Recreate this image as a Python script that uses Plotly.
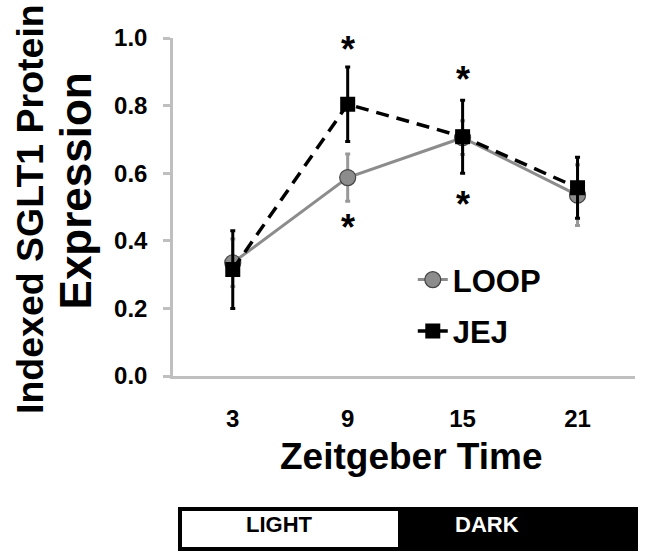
import plotly.graph_objects as go

# ---- data ----
zt_labels = ["3", "9", "15", "21"]
loop_vals = [0.335, 0.587, 0.705, 0.535]
loop_err = [0.07, 0.07, 0.05, 0.09]
jej_vals = [0.315, 0.804, 0.708, 0.557]
jej_err = [0.115, 0.11, 0.108, 0.09]
y_ticks = [0.0, 0.2, 0.4, 0.6, 0.8, 1.0]
y_tick_text = ["0.0", "0.2", "0.4", "0.6", "0.8", "1.0"]
# significance stars (category index, value)
star_idx = [1, 1, 2, 2]
star_vals = [0.966, 0.440, 0.877, 0.506]

FONT = "Liberation Sans, Arial, sans-serif"

fig = go.Figure()
fig.add_trace(go.Scatter(
    x=zt_labels, y=loop_vals, name="LOOP", mode="lines+markers",
    line=dict(color="#8c8c8c", width=3),
    marker=dict(symbol="circle", size=16, color="#8c8c8c",
                line=dict(color="#444444", width=1.2)),
    error_y=dict(type="data", array=loop_err, color="#999999",
                 thickness=3, width=2.5),
    legendgroup="a",
))
fig.add_trace(go.Scatter(
    x=zt_labels, y=jej_vals, name="JEJ", mode="lines+markers",
    line=dict(color="#000000", width=3.5, dash="13px,8px"),
    marker=dict(symbol="square", size=15, color="#000000"),
    error_y=dict(type="data", array=jej_err, color="#000000",
                 thickness=3, width=2.5),
    legendgroup="b",
))

annotations = []
for i, v in zip(star_idx, star_vals):
    annotations.append(dict(x=i, y=v, xref="x", yref="y", text="<b>*</b>",
                            showarrow=False, font=dict(size=36, color="black", family=FONT),
                            xanchor="center", yanchor="middle"))

# y-axis title (two lines)
annotations.append(dict(x=-0.3095, y=0.494, xref="paper", yref="paper",
                        text="<b>Indexed SGLT1 Protein</b>", textangle=-90,
                        showarrow=False, font=dict(size=37.5, color="black", family=FONT),
                        xanchor="center", yanchor="middle"))
annotations.append(dict(x=-0.2121, y=0.546, xref="paper", yref="paper",
                        text="<b>Expression</b>", textangle=-90,
                        showarrow=False, font=dict(size=44, color="black", family=FONT),
                        xanchor="center", yanchor="middle"))
# x-axis title
annotations.append(dict(x=0.517, y=-0.2396, xref="paper", yref="paper",
                        text="<b>Zeitgeber Time</b>",
                        showarrow=False, font=dict(size=37, color="black", family=FONT),
                        xanchor="center", yanchor="middle"))
# light/dark labels
annotations.append(dict(x=0.2316, y=-0.4408, xref="paper", yref="paper",
                        text="<b>LIGHT</b>", showarrow=False,
                        font=dict(size=22, color="black", family=FONT),
                        xanchor="center", yanchor="middle"))
annotations.append(dict(x=0.6797, y=-0.4408, xref="paper", yref="paper",
                        text="<b>DARK</b>", showarrow=False,
                        font=dict(size=22, color="white", family=FONT),
                        xanchor="center", yanchor="middle"))

shapes = [
    dict(type="rect", xref="paper", yref="paper", x0=0.0108, x1=1.0065,
         y0=-0.5178, y1=-0.3876, fillcolor="black", line=dict(width=0), layer="above"),
    dict(type="rect", xref="paper", yref="paper", x0=0.0195, x1=0.487,
         y0=-0.5059, y1=-0.3994, fillcolor="white", line=dict(width=0), layer="above"),
]

fig.update_layout(
    width=649, height=560,
    margin=dict(l=173, r=14, t=38, b=184),
    paper_bgcolor="white", plot_bgcolor="white",
    font=dict(family=FONT, color="black"),
    showlegend=True,
    legend=dict(x=0.519, y=0.364, xanchor="left", yanchor="top",
                bgcolor="rgba(0,0,0,0)", tracegroupgap=8,
                font=dict(size=31, family=FONT, color="black", weight="bold")),
    annotations=annotations,
    shapes=shapes,
)
fig.update_xaxes(
    type="category", range=[-0.52, 3.5],
    showline=True, linecolor="#bfbfbf", linewidth=2.5,
    showgrid=False, zeroline=False, ticks="",
    tickfont=dict(size=24, family=FONT, color="black", weight="bold"),
    ticklabelstandoff=19,
)
fig.update_yaxes(
    range=[0, 1], tickvals=y_ticks, ticktext=y_tick_text,
    showline=True, linecolor="#bfbfbf", linewidth=2.5,
    showgrid=False, zeroline=False,
    ticks="outside", ticklen=7, tickwidth=2.5, tickcolor="#bfbfbf",
    tickfont=dict(size=24, family=FONT, color="black", weight="bold"),
    ticklabelstandoff=11,
)
fig.write_html("out.html", config={"displayModeBar": False},
               post_script="document.body.style.margin='0px';")
